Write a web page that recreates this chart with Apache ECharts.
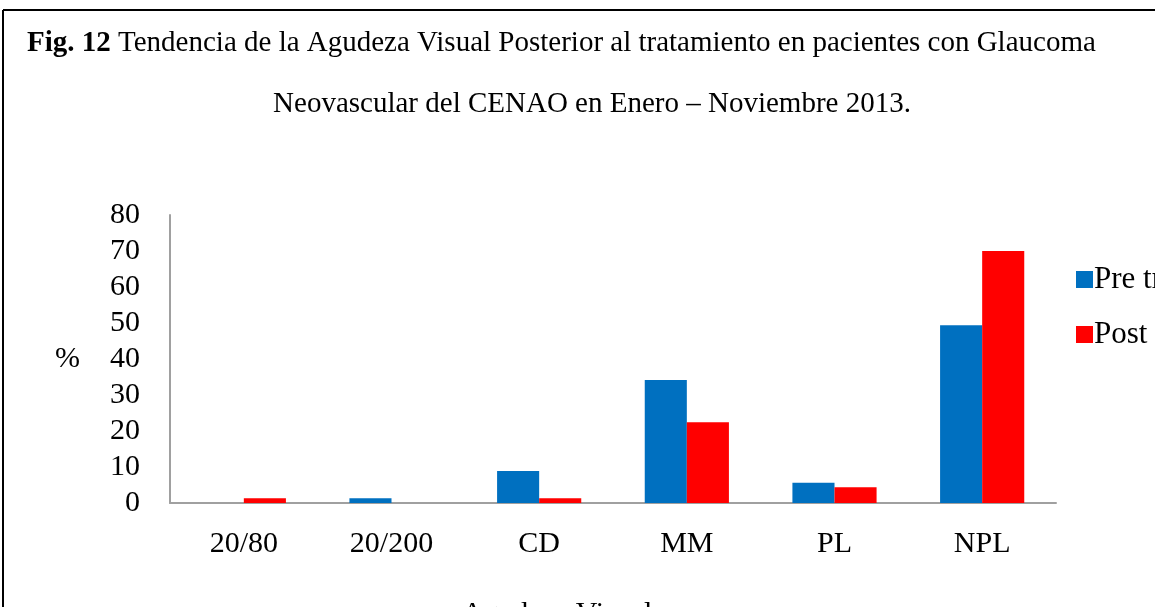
<!DOCTYPE html>
<html>
<head>
<meta charset="utf-8">
<script src="https://cdn.jsdelivr.net/npm/echarts@6/dist/echarts.min.js"></script>
<style>
html,body{margin:0;padding:0;background:#fff;}
#chart{width:1155px;height:607px;}
</style>
</head>
<body>
<div id="chart"></div>
<script>
var categorias = ['20/80', '20/200', 'CD', 'MM', 'PL', 'NPL'];
var preTratamiento = [0, 1.3, 8.9, 34.2, 5.6, 49.4];
var postTratamiento = [1.3, 0, 1.3, 22.4, 4.4, 70.0];
var ticksY = [0, 10, 20, 30, 40, 50, 60, 70, 80];

var serif = '"Liberation Serif", "DejaVu Serif", serif';
var myChart = echarts.init(document.getElementById('chart'));

var option = {
    backgroundColor: '#fff',
    animation: false,
    title: [
        {
            // linea 1 con "Fig. 12" en negrita
            text: '{b|Fig. 12} Tendencia de la Agudeza Visual Posterior al tratamiento en pacientes con Glaucoma',
            left: 22, top: 24,
            textStyle: {
                fontFamily: serif, fontSize: 29, fontWeight: 'normal', color: '#000',
                rich: {b: {fontFamily: serif, fontSize: 29, fontWeight: 'bold', color: '#000'}}
            }
        },
        {
            text: 'Neovascular del CENAO en Enero – Noviembre 2013.',
            left: 587, top: 85, textAlign: 'center',
            textStyle: {fontFamily: serif, fontSize: 29, fontWeight: 'normal', color: '#000'}
        }
    ],
    graphic: [
        {type: 'line', shape: {x1: 3, y1: 10, x2: 1160, y2: 10}, style: {stroke: '#000', lineWidth: 2}},
        {type: 'line', shape: {x1: 3, y1: 10, x2: 3, y2: 610}, style: {stroke: '#000', lineWidth: 2}}
    ],
    legend: {
        orient: 'vertical',
        left: 1071, top: 259,
        icon: 'rect',
        itemWidth: 17, itemHeight: 17,
        itemGap: 24,
        textStyle: {fontFamily: serif, fontSize: 31, color: '#000', padding: [0, 0, 0, -4]},
        data: ['Pre tratamiento', 'Post tratamiento']
    },
    grid: {left: 170, right: 99, top: 215, bottom: 104, outerBoundsMode: 'none', containLabel: false},
    xAxis: {
        type: 'category',
        data: categorias,
        name: 'Agudeza Visual',
        nameLocation: 'middle',
        nameGap: 96,
        nameTextStyle: {fontFamily: serif, fontSize: 30, color: '#000', padding: [0, 112, 0, 0]},
        axisLine: {lineStyle: {color: '#a0a0a0', width: 2}},
        axisTick: {show: false},
        axisLabel: {fontFamily: serif, fontSize: 30, color: '#000', margin: 26}
    },
    yAxis: {
        type: 'value',
        min: ticksY[0], max: ticksY[ticksY.length - 1], interval: 10,
        name: '%',
        nameLocation: 'middle',
        nameRotate: 0,
        nameGap: 90,
        nameTextStyle: {fontFamily: serif, fontSize: 30, color: '#000', padding: [14, 0, 0, 0]},
        axisLine: {show: true, lineStyle: {color: '#a0a0a0', width: 2}},
        axisTick: {show: false},
        splitLine: {show: false},
        axisLabel: {fontFamily: serif, fontSize: 30, color: '#000', margin: 30}
    },
    series: [
        {
            name: 'Pre tratamiento', type: 'bar', data: preTratamiento,
            barGap: '0%', barCategoryGap: '43%',
            itemStyle: {color: '#0070C0'}
        },
        {
            name: 'Post tratamiento', type: 'bar', data: postTratamiento,
            itemStyle: {color: '#FF0000'}
        }
    ]
};
myChart.setOption(option);
</script>
</body>
</html>
